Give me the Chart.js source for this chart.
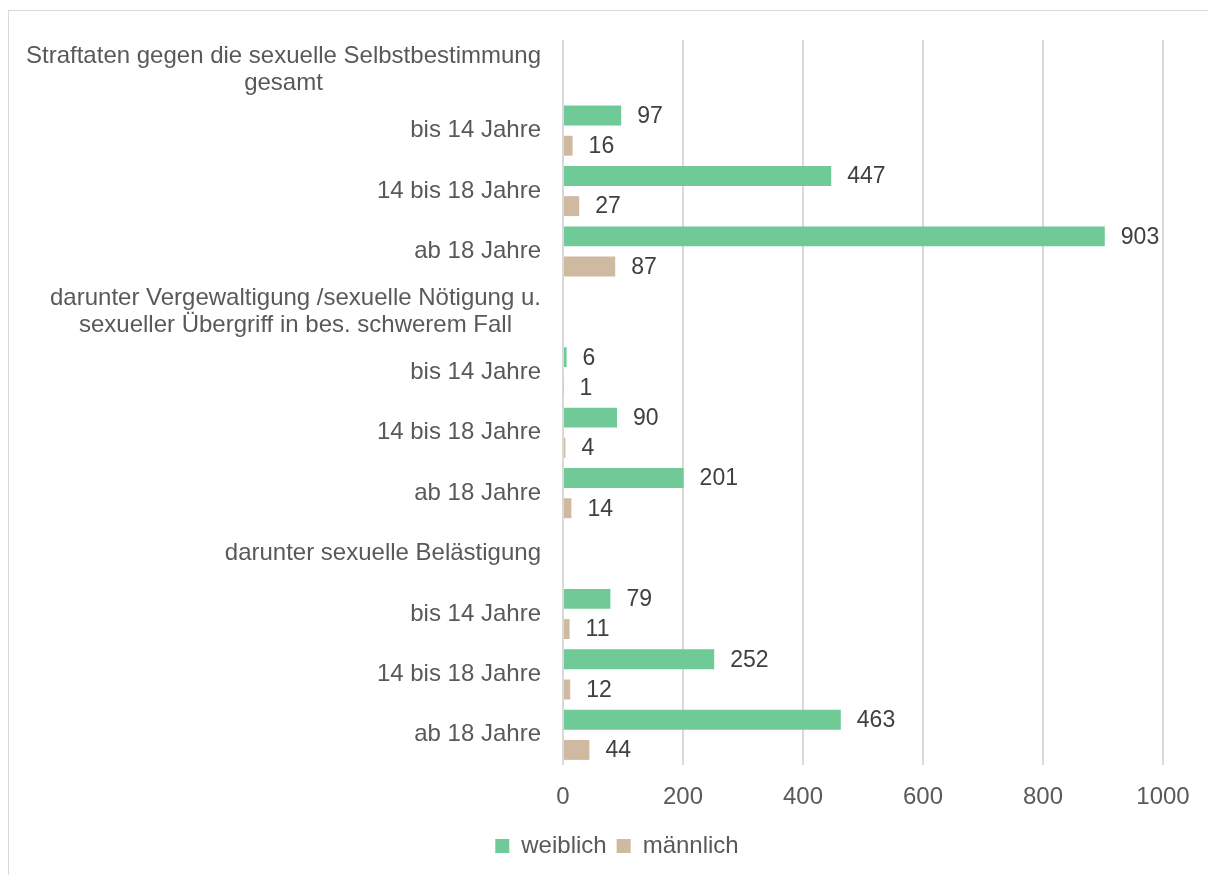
<!DOCTYPE html>
<html>
<head>
<meta charset="utf-8">
<script src="https://cdn.jsdelivr.net/npm/chart.js@4/dist/chart.umd.min.js"></script>
<style>
  html, body { margin: 0; padding: 0; background: #fff; }
  #wrap { width: 1208px; height: 875px; position: relative; }
</style>
</head>
<body>
<div id="wrap"><canvas id="chart" width="1208" height="875"></canvas></div>
<script>
const categories = [
    ['Straftaten gegen die sexuelle Selbstbestimmung', 'gesamt'],
    'bis 14 Jahre', '14 bis 18 Jahre', 'ab 18 Jahre',
    ['darunter Vergewaltigung /sexuelle Nötigung u.', 'sexueller Übergriff in bes. schwerem Fall'],
    'bis 14 Jahre', '14 bis 18 Jahre', 'ab 18 Jahre',
    'darunter sexuelle Belästigung',
    'bis 14 Jahre', '14 bis 18 Jahre', 'ab 18 Jahre'
];
const weiblich = [null, 97, 447, 903, null, 6, 90, 201, null, 79, 252, 463];
const maennlich = [null, 16, 27, 87, null, 1, 4, 14, null, 11, 12, 44];
const xTicks = [0, 200, 400, 600, 800, 1000];

const FONT = "'Liberation Sans', Arial, sans-serif";
const GREY_TXT = '#595959';
const GRID = '#d9d9d9';

// rahmen + hintergrund
const framePlugin = {
    id: 'frame',
    beforeDraw(chart) {
        const ctx = chart.ctx;
        ctx.save();
        ctx.fillStyle = '#fff';
        ctx.fillRect(0, 0, chart.width, chart.height);
        ctx.strokeStyle = GRID;
        ctx.lineWidth = 1;
        ctx.strokeRect(8.5, 10.5, 1400, 1000);
        ctx.restore();
    }
};

// kategorie-beschriftung (mehrzeilig zentriert, block rechtsbündig)
const yLabelPlugin = {
    id: 'yLabels',
    afterDraw(chart) {
        const ctx = chart.ctx;
        const ys = chart.scales.y;
        const right = chart.chartArea.left - 22;
        ctx.save();
        ctx.font = '24px ' + FONT;
        ctx.fillStyle = GREY_TXT;
        ctx.textAlign = 'center';
        ctx.textBaseline = 'middle';
        categories.forEach((lab, i) => {
            const lines = Array.isArray(lab) ? lab : [lab];
            const w = Math.max(...lines.map(l => ctx.measureText(l).width));
            const cx = right - w / 2;
            const y = ys.getPixelForValue(i);
            lines.forEach((l, j) => {
                ctx.fillText(l, cx, y + (j - (lines.length - 1) / 2) * 27);
            });
        });
        ctx.restore();
    }
};

// werte neben den balken
const valuePlugin = {
    id: 'values',
    afterDatasetsDraw(chart) {
        const ctx = chart.ctx;
        ctx.save();
        ctx.font = '23px ' + FONT;
        ctx.fillStyle = '#404040';
        ctx.textAlign = 'left';
        ctx.textBaseline = 'middle';
        chart.data.datasets.forEach((ds, di) => {
            chart.getDatasetMeta(di).data.forEach((bar, i) => {
                const v = ds.data[i];
                if (v === null || v === undefined) return;
                ctx.fillText(String(v), bar.x + 16, bar.y + 1);
            });
        });
        ctx.restore();
    }
};

const ctx = document.getElementById('chart').getContext('2d');
new Chart(ctx, {
    type: 'bar',
    data: {
        labels: categories,
        datasets: [
            { label: 'weiblich', data: weiblich, backgroundColor: '#70ca97' },
            { label: 'männlich', data: maennlich, backgroundColor: '#cfb9a0' }
        ]
    },
    options: {
        indexAxis: 'y',
        responsive: false,
        animation: false,
        devicePixelRatio: 1,
        layout: { padding: { top: 40, left: 71, right: 45, bottom: 7 } },
        datasets: {
            bar: { categoryPercentage: 1.0, barPercentage: 0.66 }
        },
        scales: {
            x: {
                min: 0,
                max: 1000,
                afterBuildTicks(scale) {
                    scale.ticks = xTicks.map(v => ({ value: v }));
                },
                afterFit(scale) { scale.height = 59; },
                grid: { color: GRID, lineWidth: 2, drawTicks: false },
                border: { display: false },
                ticks: {
                    padding: 18,
                    color: GREY_TXT,
                    font: { family: FONT, size: 24 },
                    callback: v => String(v)
                }
            },
            y: {
                grid: { display: false },
                border: { display: false },
                ticks: { display: false },
                afterFit(scale) { scale.width = 563 - 71; }
            }
        },
        plugins: {
            legend: {
                position: 'bottom',
                labels: {
                    boxWidth: 14,
                    boxHeight: 14,
                    padding: 10,
                    color: GREY_TXT,
                    font: { family: FONT, size: 24 }
                }
            },
            tooltip: { enabled: false }
        }
    },
    plugins: [framePlugin, yLabelPlugin, valuePlugin]
});
</script>
</body>
</html>
